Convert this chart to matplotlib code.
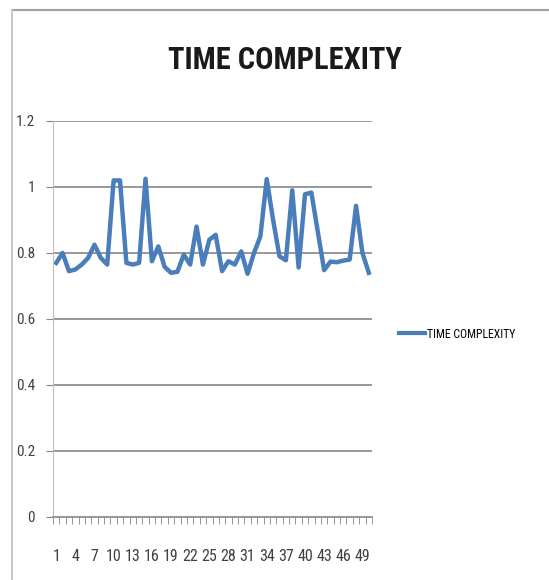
import matplotlib.pyplot as plt
from matplotlib import font_manager
from matplotlib.lines import Line2D

# values (50 runs)
runs = list(range(1, 51))
time_complexity = [
    0.77, 0.80, 0.745, 0.75, 0.765, 0.785, 0.825, 0.785, 0.765, 1.02,
    1.02, 0.77, 0.765, 0.77, 1.025, 0.775, 0.82, 0.758, 0.74, 0.743,
    0.795, 0.765, 0.88, 0.765, 0.84, 0.855, 0.745, 0.775, 0.765, 0.805,
    0.737, 0.80, 0.85, 1.024, 0.90, 0.79, 0.778, 0.99, 0.756, 0.978,
    0.983, 0.865, 0.748, 0.774, 0.772, 0.777, 0.78, 0.943, 0.80, 0.74,
]
y_ticks = [0, 0.2, 0.4, 0.6, 0.8, 1, 1.2]
y_tick_labels = ["0", "0.2", "0.4", "0.6", "0.8", "1", "1.2"]
title = "TIME COMPLEXITY"
series_name = "TIME COMPLEXITY"


def pick_font():
    names = {f.name for f in font_manager.fontManager.ttflist}
    for name in ["Liberation Sans Narrow", "Roboto Condensed", "Open Sans Condensed"]:
        if name in names:
            return name
    return "Liberation Sans"


def main():
    font = pick_font()
    plt.rcParams["font.family"] = [font, "DejaVu Sans"]

    fig = plt.figure(figsize=(5.49, 5.8), dpi=100)
    ax = fig.add_axes([53 / 549, 1 - 517 / 580, 319 / 549, 396 / 580])

    blue = "#4A7EBB"
    grid_color = "#868686"

    ax.plot(runs, time_complexity, color=blue, lw=3.2, solid_joinstyle="round")

    ax.set_xlim(0.5, len(runs) + 0.5)
    ax.set_ylim(0, 1.2)
    ax.set_yticks(y_ticks)
    ax.set_yticklabels(y_tick_labels, fontsize=11, color="#404040")
    for v in y_ticks[1:]:
        ax.axhline(v, color=grid_color, lw=1.2, zorder=0)

    ax.set_xticks(runs[::3])
    ax.set_xticklabels([str(r) for r in runs[::3]], fontsize=11.5, color="#404040")
    ax.set_xticks([r + 0.5 for r in range(0, len(runs) + 1)], minor=True)
    ax.tick_params(axis="x", which="major", length=0, pad=23)
    ax.tick_params(axis="x", which="minor", length=5, color=grid_color, direction="out")
    ax.tick_params(axis="y", length=5, color=grid_color, pad=8)

    for side in ["top", "right"]:
        ax.spines[side].set_visible(False)
    ax.spines["left"].set_color("#bfbfbf")
    ax.spines["bottom"].set_color(grid_color)
    ax.spines["bottom"].set_linewidth(1.2)

    fig.text(285 / 549, 1 - 60 / 580, title, ha="center", va="center",
             fontsize=22, fontweight="bold", color="#1a1a1a")

    # legend to the right of the plot
    fig.legend(handles=[Line2D([], [], color=blue, lw=3)], labels=[series_name],
               loc="center left", bbox_to_anchor=(388 / 549, 1 - 334 / 580),
               frameon=False, fontsize=8.5, handlelength=2.2, handletextpad=0.2)

    # screenshot frame lines
    fig.add_artist(Line2D([12 / 549, 1], [1 - 10 / 580, 1 - 10 / 580],
                          color="#a0a0a0", lw=1.5, transform=fig.transFigure))
    fig.add_artist(Line2D([12 / 549, 12 / 549], [0, 1 - 10 / 580],
                          color="#c8c8c8", lw=1.5, transform=fig.transFigure))

    fig.savefig("out.png", dpi=100)


if __name__ == '__main__':
    main()
